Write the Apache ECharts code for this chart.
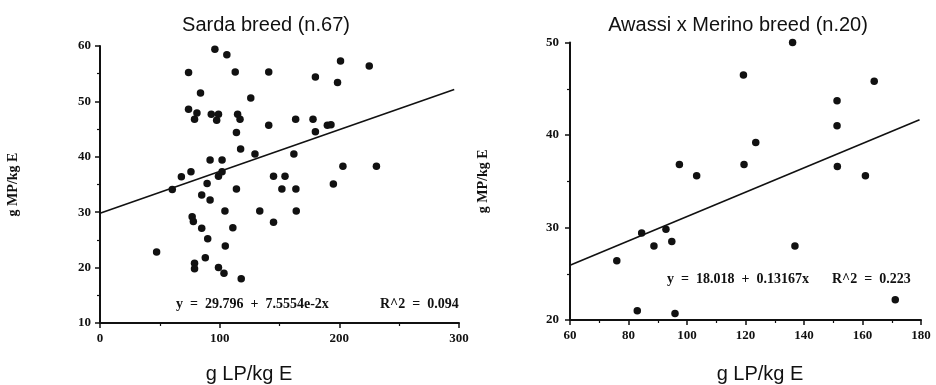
<!DOCTYPE html>
<html>
<head>
<meta charset="utf-8">
<script src="https://cdn.jsdelivr.net/npm/echarts@6/dist/echarts.min.js"></script>
<style>
  html, body { margin: 0; padding: 0; background: #fff; }
  #chart { width: 936px; height: 385px; }
</style>
</head>
<body>
<div id="chart"></div>
<script>
// Sarda breed: [g LP/kg E, g MP/kg E]
const sardaPoints = [
  [96, 59.4], [106, 58.4], [74, 55.2], [113, 55.3], [84, 51.5], [126, 50.6],
  [74, 48.6], [81, 47.9], [79, 46.8], [93, 47.7], [99, 47.7], [97.5, 46.6],
  [115, 47.7], [117, 46.8], [114, 44.4], [117.5, 41.4], [129.5, 40.5], [92, 39.4],
  [102, 39.4], [76, 37.3], [68, 36.4], [99, 36.5], [102, 37.3], [89.5, 35.2],
  [60.4, 34.1], [85, 33.1], [92, 32.2], [114, 34.2], [141, 55.3], [201, 57.3],
  [225, 56.4], [180, 54.4], [198.5, 53.4], [141, 45.7], [163.5, 46.8], [178, 46.8],
  [190, 45.7], [193, 45.8], [180, 44.5], [162, 40.5], [203, 38.3], [231, 38.3],
  [145, 36.5], [154.6, 36.5], [152, 34.2], [163.7, 34.2], [195, 35.1], [133.5, 30.2],
  [164, 30.2], [145, 28.2], [104.4, 30.2], [77, 29.2], [78, 28.3], [85, 27.1],
  [111, 27.2], [90, 25.2], [104.7, 23.9], [47.3, 22.8], [88, 21.8], [79, 20.8],
  [79, 19.8], [99, 20], [103.6, 19], [118, 18]
]
// Awassi x Merino breed
const awassiPoints = [
  [119.3, 46.5], [97.4, 36.8], [103.3, 35.6], [119.5, 36.8], [84.5, 29.4],
  [92.8, 29.8], [88.7, 28], [94.8, 28.5], [76, 26.4], [83, 21], [95.9, 20.7],
  [136.1, 50], [164, 45.8], [151.3, 43.7], [151.3, 41], [123.5, 39.2],
  [151.4, 36.6], [161, 35.6], [136.9, 28], [171.2, 22.2]
]

// regression: intercept, slope, x range of the drawn line
const sardaFit = { a: 29.796, b: 0.075554, from: 0, to: 296 }
const awassiFit = { a: 18.018, b: 0.13167, from: 60, to: 179.5 }

const titles = ['Sarda breed (n.67)', 'Awassi x Merino breed (n.20)']
const equations = ['y  =  29.796  +  7.5554e-2x', 'y  =  18.018  +  0.13167x']
const r2Labels = ['R^2  =  0.094', 'R^2  =  0.223']
const xName = 'g LP/kg E'
const yName = 'g MP/kg E'

const ink = '#111'
const serif = '"Liberation Serif", "DejaVu Serif", serif'
const sans = '"Liberation Sans", Arial, sans-serif'

function fitLine(f) {
  return [f.from, f.to].map((x) => [x, f.a + f.b * x])
}

function makeX(gridIndex, min, max, interval, margin) {
  return {
    type: 'value',
    gridIndex,
    min,
    max,
    interval,
    axisLine: { show: true, onZero: false, lineStyle: { color: ink, width: 2 } },
    axisTick: { show: true, length: 5, lineStyle: { color: ink, width: 1.5 } },
    minorTick: { show: true, splitNumber: 2, length: 3, lineStyle: { color: ink, width: 1.2 } },
    axisLabel: { color: ink, fontFamily: serif, fontWeight: 'bold', fontSize: 13, margin },
    splitLine: { show: false }
  }
}

function makeY(gridIndex, min, max, interval, margin) {
  return {
    type: 'value',
    gridIndex,
    min,
    max,
    interval,
    name: yName,
    nameLocation: 'middle',
    nameGap: 80,
    nameTextStyle: { color: ink, fontFamily: serif, fontWeight: 'bold', fontSize: 14 },
    axisLine: { show: true, onZero: false, lineStyle: { color: ink, width: 2 } },
    axisTick: { show: true, length: 5, lineStyle: { color: ink, width: 1.5 } },
    minorTick: { show: true, splitNumber: 2, length: 3, lineStyle: { color: ink, width: 1.2 } },
    axisLabel: { color: ink, fontFamily: serif, fontWeight: 'bold', fontSize: 13, margin },
    splitLine: { show: false }
  }
}

function txt(x, y, text, font, align) {
  return {
    type: 'text',
    x,
    y,
    style: { text, font, fill: ink, align: align || 'left', verticalAlign: 'middle' }
  }
}

const chart = echarts.init(document.getElementById('chart'))

chart.setOption({
  animation: false,
  backgroundColor: '#fff',
  grid: [
    { left: 100, top: 46, width: 359, height: 277 },
    { left: 570, top: 42.5, width: 351, height: 277.5 }
  ],
  xAxis: [makeX(0, 0, 300, 100, 9), makeX(1, 60, 180, 20, 9)],
  yAxis: [makeY(0, 10, 60, 10, 9), makeY(1, 20, 50, 10, 11)],
  graphic: [
    txt(266, 25, titles[0], '20px ' + sans, 'center'),
    txt(738, 25, titles[1], '20px ' + sans, 'center'),
    txt(249, 374, xName, '20px ' + sans, 'center'),
    txt(760, 374, xName, '20px ' + sans, 'center'),
    txt(176, 304, equations[0], 'bold 14px ' + serif),
    txt(380, 304, r2Labels[0], 'bold 14px ' + serif),
    txt(667, 279, equations[1], 'bold 14px ' + serif),
    txt(832, 279, r2Labels[1], 'bold 14px ' + serif)
  ],
  series: [
    {
      type: 'scatter',
      xAxisIndex: 0,
      yAxisIndex: 0,
      symbolSize: 7.5,
      itemStyle: { color: ink, opacity: 1 },
      data: sardaPoints
    },
    {
      type: 'line',
      xAxisIndex: 0,
      yAxisIndex: 0,
      showSymbol: false,
      silent: true,
      lineStyle: { color: ink, width: 1.6 },
      data: fitLine(sardaFit)
    },
    {
      type: 'scatter',
      xAxisIndex: 1,
      yAxisIndex: 1,
      symbolSize: 7.5,
      itemStyle: { color: ink, opacity: 1 },
      data: awassiPoints
    },
    {
      type: 'line',
      xAxisIndex: 1,
      yAxisIndex: 1,
      showSymbol: false,
      silent: true,
      lineStyle: { color: ink, width: 1.6 },
      data: fitLine(awassiFit)
    }
  ]
})
</script>
</body>
</html>
